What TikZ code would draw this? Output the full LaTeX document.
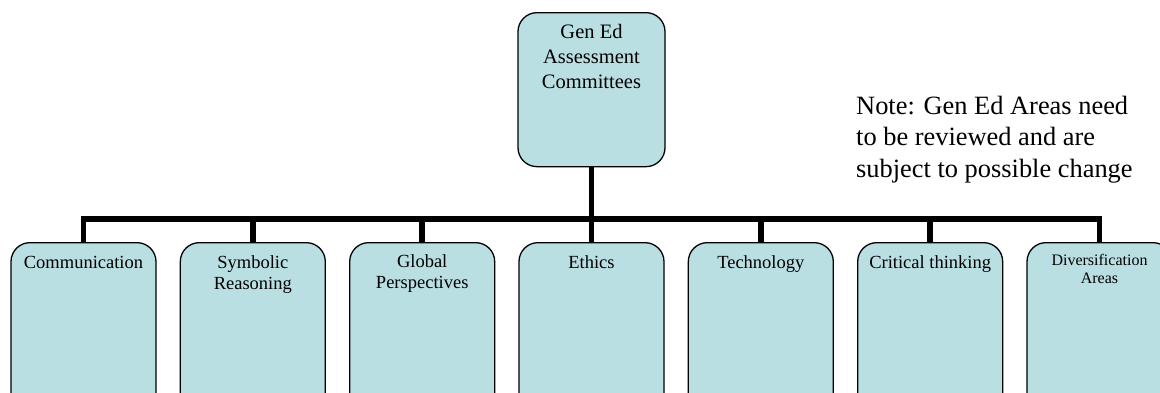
\documentclass[tikz,border=0pt]{standalone}
\usepackage{fontspec}
\setmainfont{Liberation Serif}
\definecolor{boxfill}{RGB}{185,223,227}
\tikzset{
  x=1pt, y=-1pt,
  orgbox/.style={draw=black, line width=1.3pt, fill=boxfill, rounded corners=19pt,
                 inner sep=0pt, anchor=north},
  conn/.style={draw=black, line width=5.7pt, line join=miter},
}
\newcommand{\boxcontent}[5]{\parbox[t][#2pt][t]{#1pt}{\centering\fontsize{#3}{#4}\selectfont #5}}
\begin{document}
\begin{tikzpicture}
\useasboundingbox (0,0) rectangle (1160,392);
% top box
\node[orgbox] (top) at (591.5,12)
  {\boxcontent{147}{154}{20.5}{25}{\rule{0pt}{26pt}Gen Ed\\Assessment\\Committees}};
% bottom boxes
\node[orgbox] (b1) at (83.5,242)
  {\boxcontent{145}{175}{18.5}{21.3}{\rule{0pt}{26pt}Communication}};
\node[orgbox] (b2) at (252.8,242)
  {\boxcontent{145}{175}{18.5}{21.3}{\rule{0pt}{26pt}Symbolic\\Reasoning}};
\node[orgbox] (b3) at (422.2,242)
  {\boxcontent{145}{175}{18.5}{21.3}{\rule{0pt}{25pt}Global\\Perspectives}};
\node[orgbox] (b4) at (591.5,242)
  {\boxcontent{145}{175}{18.5}{21.3}{\rule{0pt}{26pt}Ethics}};
\node[orgbox] (b5) at (760.8,242)
  {\boxcontent{145}{175}{18.5}{21.3}{\rule{0pt}{26pt}Technology}};
\node[orgbox] (b6) at (930.2,242)
  {\boxcontent{145}{175}{18.5}{21.3}{\rule{0pt}{26pt}Critical thinking}};
\node[orgbox] (b7) at (1099.5,242)
  {\boxcontent{145}{175}{16}{18}{\rule{0pt}{23pt}Diversification\\Areas}};
% note
\node[anchor=base west, inner sep=0pt] (note) at (856,114)
  {\parbox[t]{300pt}{\raggedright\fontsize{26.4}{31.5}\selectfont Note: Gen Ed Areas need\\to be reviewed and are\\subject to possible change}};
% connectors
\coordinate (bus) at (591.5,219);
\draw[conn] (top.south) -- (bus);
\draw[conn] (b1.north) |- (bus) -| (b7.north);
\draw[conn] (b2.north) -- (b2.north |- bus);
\draw[conn] (b3.north) -- (b3.north |- bus);
\draw[conn] (b4.north) -- (b4.north |- bus);
\draw[conn] (b5.north) -- (b5.north |- bus);
\draw[conn] (b6.north) -- (b6.north |- bus);
\end{tikzpicture}
\end{document}
